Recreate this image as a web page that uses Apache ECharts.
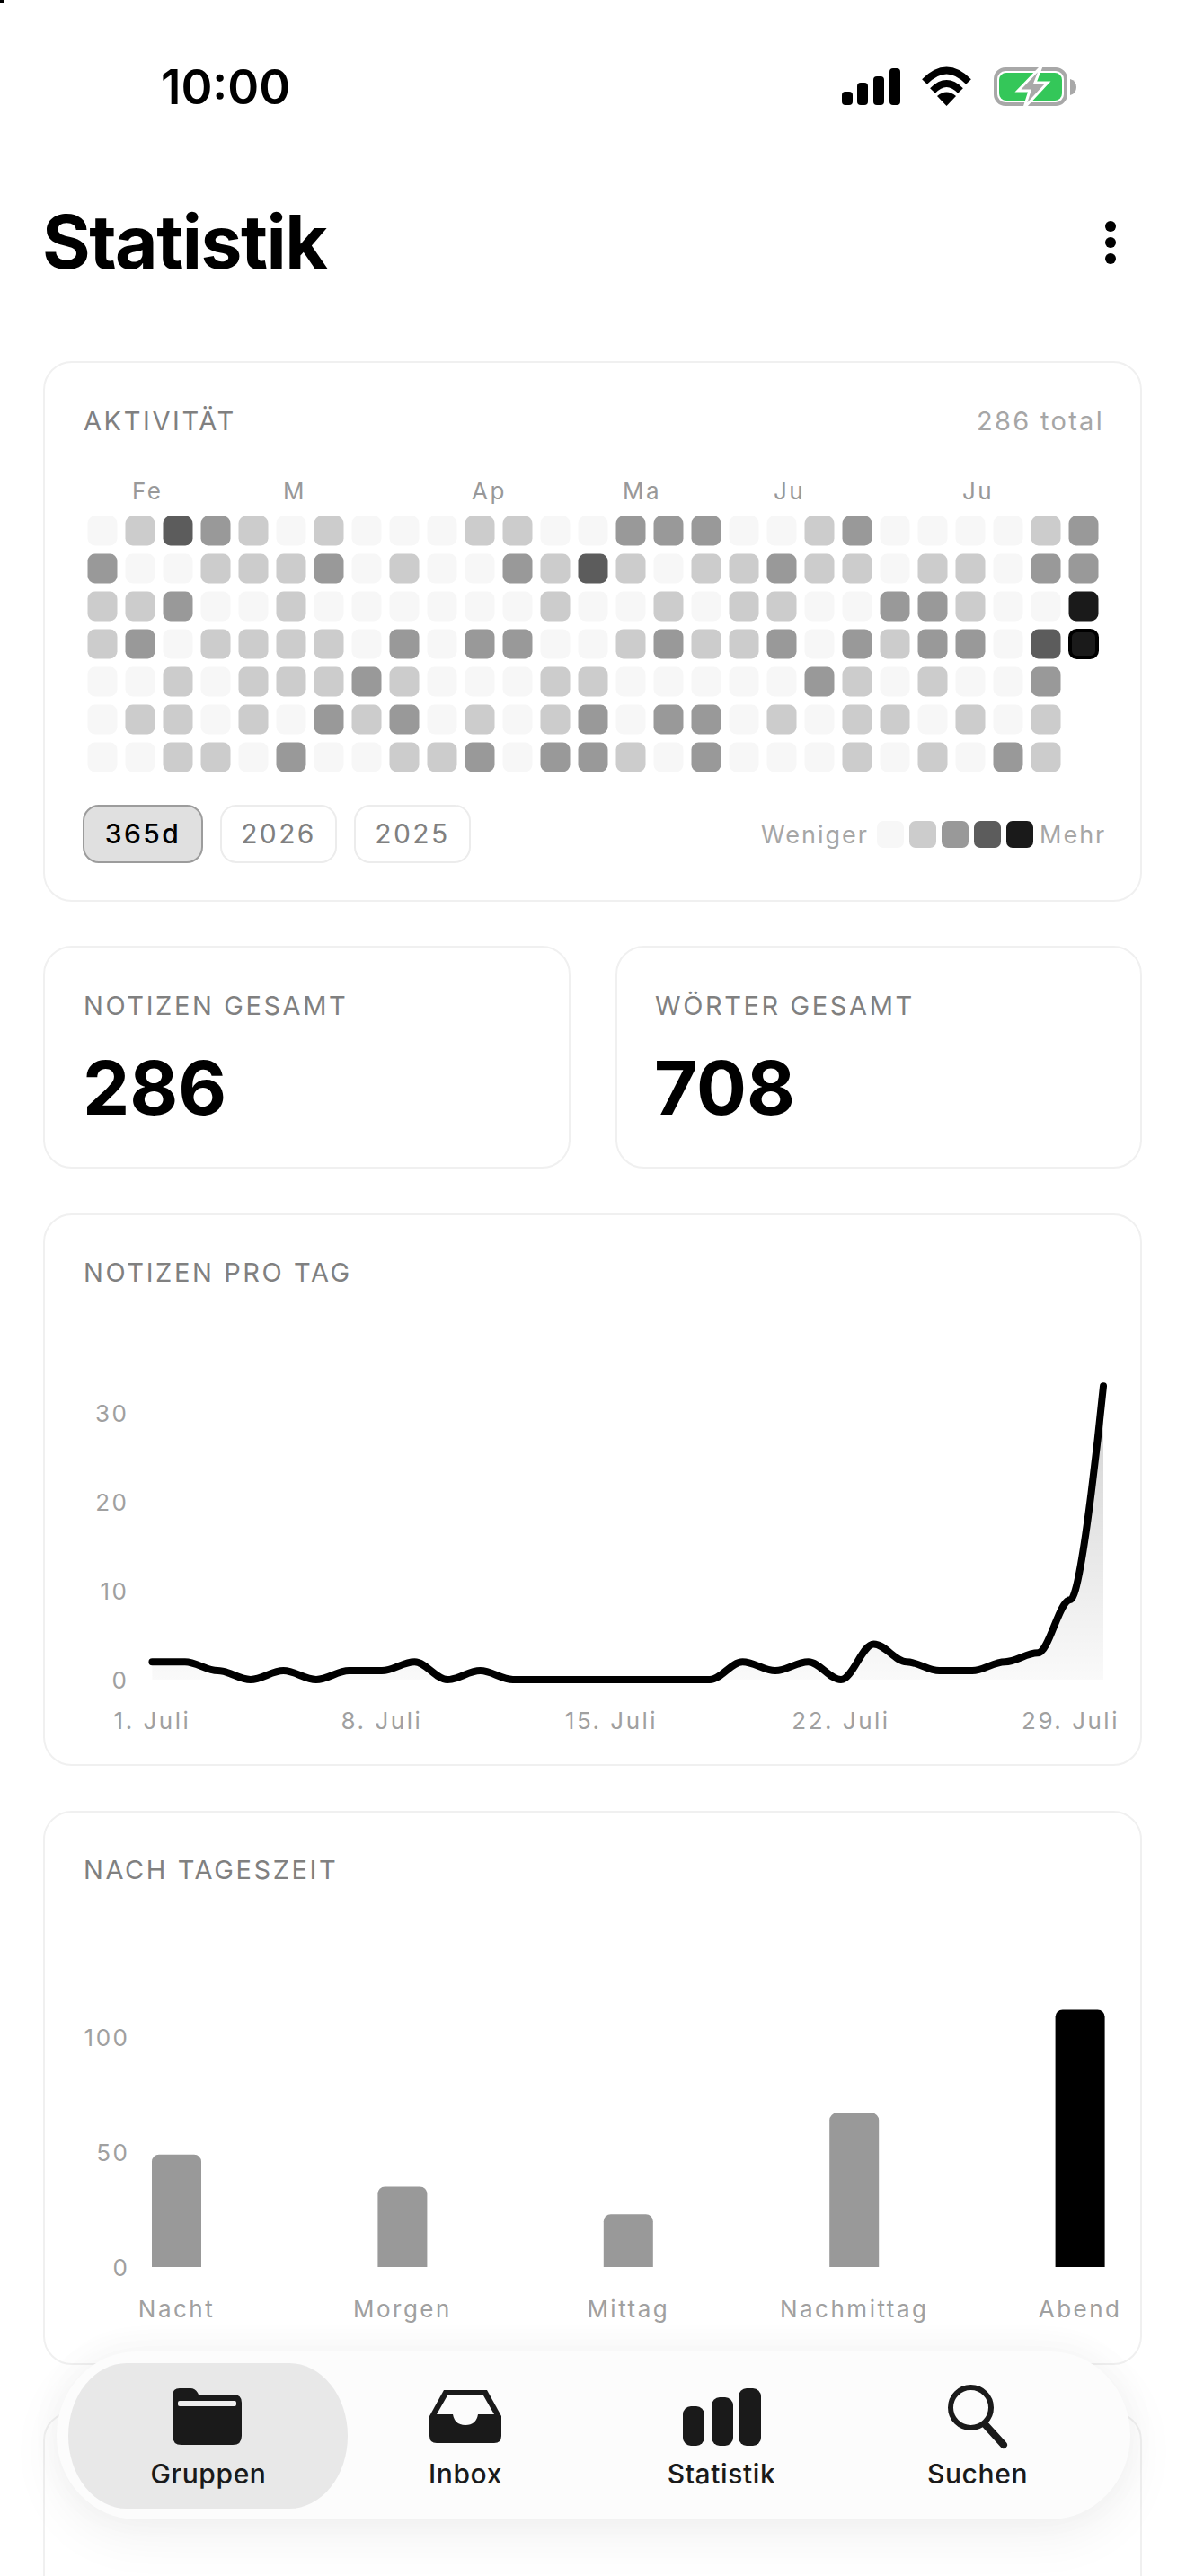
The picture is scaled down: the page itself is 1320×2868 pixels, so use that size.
<!DOCTYPE html>
<html>
<head>
<meta charset="utf-8">
<style>
  html, body { margin: 0; width: 1320px; height: 2868px; overflow: hidden; background: #fff; font-family: Inter, sans-serif; }
  .card { position: absolute; box-sizing: border-box; background: #fff; border: 2px solid #f0f0f0; border-radius: 32px; }
  .t { position: absolute; line-height: 1; white-space: nowrap; }
  .head { font-size: 29px; letter-spacing: 2.6px; color: #808080; }
  .big { font-size: 83px; font-weight: 700; color: #000; }
  .btn { position: absolute; box-sizing: border-box; top: 896px; height: 65px; border: 2px solid #ececec; border-radius: 18px; text-align: center; line-height: 61px; font-size: 30px; letter-spacing: 2.4px; color: #808080; }
  .btn.on { background: #e0e0e0; border-color: #9c9c9c; color: #000; font-weight: 500; }
  .leg { position: absolute; top: 914px; width: 30px; height: 30px; border-radius: 7px; }
  .small { font-size: 27px; letter-spacing: 2px; color: #a6a6a6; }
  #chart { position: absolute; left: 0; top: 0; width: 1320px; height: 2868px; z-index: 1; }
  #chart text { letter-spacing: 2.5px; }
  #nav { position: absolute; left: 63px; top: 2618px; width: 1195px; height: 187px; border-radius: 90px / 94px; background: #fcfcfc; box-shadow: 0 18px 60px rgba(0,0,0,.06), 0 -6px 40px rgba(0,0,0,.03); z-index: 2; }
  #pill { position: absolute; left: 76px; top: 2631px; width: 311px; height: 162px; border-radius: 65px / 81px; background: #e8e8e8; z-index: 2; }
  #icons { position: absolute; left: 0; top: 0; z-index: 3; }
  .tab { position: absolute; top: 2739px; width: 200px; text-align: center; font-size: 30px; font-weight: 500; letter-spacing: 0.6px; color: #1a1a1a; line-height: 1; z-index: 3; }
</style>
</head>
<body>
  <div style="position:absolute;left:0;top:0;width:4px;height:3px;background:#000"></div>

  <div class="t" style="left:179px;top:71px;font-size:53px;font-weight:600;color:#000">10:00</div>
  <div class="t" style="left:47px;top:229px;font-size:82px;font-weight:700;color:#000;letter-spacing:-1.5px">Statistik</div>

  <div class="card" style="left:48px;top:402px;width:1223px;height:602px"></div>
  <div class="t head" style="left:93px;top:454px">AKTIVITÄT</div>
  <div class="t" style="right:91px;top:454px;font-size:29px;letter-spacing:2.3px;color:#a6a6a6">286 total</div>
  <div class="btn on" style="left:92px;width:134px">365d</div>
  <div class="btn" style="left:245px;width:130px">2026</div>
  <div class="btn" style="left:394px;width:130px">2025</div>
  <div class="t small" style="left:847px;top:916px">Weniger</div>
  <div class="leg" style="left:976px;background:#f7f7f7"></div>
  <div class="leg" style="left:1012px;background:#cccccc"></div>
  <div class="leg" style="left:1048px;background:#999999"></div>
  <div class="leg" style="left:1084px;background:#5c5c5c"></div>
  <div class="leg" style="left:1120px;background:#1a1a1a"></div>
  <div class="t small" style="left:1157px;top:916px">Mehr</div>

  <div class="card" style="left:48px;top:1053px;width:587px;height:248px"></div>
  <div class="t head" style="left:93px;top:1105px">NOTIZEN GESAMT</div>
  <div class="t big" style="left:92px;top:1170px">286</div>
  <div class="card" style="left:685px;top:1053px;width:586px;height:248px"></div>
  <div class="t head" style="left:729px;top:1105px">WÖRTER GESAMT</div>
  <div class="t big" style="left:728px;top:1170px">708</div>

  <div class="card" style="left:48px;top:1351px;width:1223px;height:615px"></div>
  <div class="t head" style="left:93px;top:1402px">NOTIZEN PRO TAG</div>

  <div class="card" style="left:48px;top:2016px;width:1223px;height:617px"></div>
  <div class="t head" style="left:93px;top:2067px">NACH TAGESZEIT</div>

  <div class="card" style="left:48px;top:2685px;width:1223px;height:300px"></div>

  <div id="chart"></div>

  <div id="nav"></div>
  <div id="pill"></div>
  <div class="tab" style="left:132px">Gruppen</div>
  <div class="tab" style="left:418px">Inbox</div>
  <div class="tab" style="left:703px">Statistik</div>
  <div class="tab" style="left:988px">Suchen</div>

  <svg id="icons" width="1320" height="2868" viewBox="0 0 1320 2868">
    <!-- status bar -->
    <rect x="937" y="102" width="12" height="15" rx="4" fill="#000"/>
    <rect x="954" y="92" width="12" height="25" rx="4" fill="#000"/>
    <rect x="972" y="85" width="12" height="32" rx="4" fill="#000"/>
    <rect x="990" y="76" width="12" height="41" rx="4" fill="#000"/>
    <path d="M1029 91 Q1053.5 66 1078 91" fill="none" stroke="#000" stroke-width="8"/>
    <path d="M1038 101 Q1053.5 85 1069 101" fill="none" stroke="#000" stroke-width="8"/>
    <path d="M1043 107 Q1053.5 98 1064 107 L1053.5 118 Z" fill="#000"/>
    <rect x="1108" y="77" width="78" height="39" rx="11" fill="none" stroke="#a8a8a8" stroke-width="4"/>
    <rect x="1112" y="81" width="70" height="31" rx="8" fill="#34c759"/>
    <path d="M1191 88 Q1198 90 1198 97 Q1198 104 1191 106 Z" fill="#a8a8a8"/>
    <path d="M1159 74 L1133 101 H1146 L1140 120 L1166 92 H1152 Z" fill="#a9a9a9" stroke="#fff" stroke-width="3"/>
    <!-- menu -->
    <circle cx="1236" cy="252" r="6" fill="#000"/>
    <circle cx="1236" cy="270" r="6" fill="#000"/>
    <circle cx="1236" cy="288" r="6" fill="#000"/>
    <!-- folder -->
    <path d="M200 2659 H212 Q217 2659 220 2664 L221 2666 H260 Q269 2666 269 2675 V2712 Q269 2722 259 2722 H202 Q192 2722 192 2712 V2667 Q192 2659 200 2659 Z" fill="#1a1a1a"/>
    <rect x="198" y="2673" width="65" height="6" rx="2" fill="#eee"/>
    <!-- inbox -->
    <path d="M494 2661 H542 L558 2690 V2712 Q558 2720 550 2720 H486 Q478 2720 478 2712 V2690 Z" fill="#1a1a1a"/>
    <path d="M498 2667 H538 L550 2688 H532 Q530 2700 518 2700 Q506 2700 504 2688 H486 Z" fill="#fcfcfc"/>
    <!-- stats -->
    <rect x="760" y="2679" width="24" height="44" rx="9" fill="#1a1a1a"/>
    <rect x="792" y="2669" width="24" height="54" rx="9" fill="#1a1a1a"/>
    <rect x="822" y="2659" width="25" height="64" rx="9" fill="#1a1a1a"/>
    <!-- search -->
    <circle cx="1080.5" cy="2680.5" r="22.5" fill="none" stroke="#1a1a1a" stroke-width="6"/>
    <line x1="1097" y1="2700" x2="1117" y2="2722" stroke="#1a1a1a" stroke-width="8" stroke-linecap="round"/>
  </svg>

  <script src="https://cdn.jsdelivr.net/npm/echarts@6/dist/echarts.min.js"></script>
  <script type="text/javascript">
    // activity levels per weekday row, one entry per column, null = no cell
    var heatRow0 = [0,1,3,2,1,0,1,0,0,0,1,1,0,0,2,2,2,0,0,1,2,0,0,0,0,1,2];
    var heatRow1 = [2,0,0,1,1,1,2,0,1,0,0,2,1,3,1,0,1,1,2,1,1,0,1,1,0,2,2];
    var heatRow2 = [1,1,2,0,0,1,0,0,0,0,0,0,1,0,0,1,0,1,1,0,0,2,2,1,0,0,4];
    var heatRow3 = [1,2,0,1,1,1,1,0,2,0,2,2,0,0,1,2,1,1,2,0,2,1,2,2,0,3,4];
    var heatRow4 = [0,0,1,0,1,1,1,2,1,0,0,0,1,1,0,0,0,0,0,2,1,0,1,0,0,2,null];
    var heatRow5 = [0,1,1,0,1,0,2,1,2,0,1,0,1,2,0,2,2,0,1,0,1,1,0,1,0,1,null];
    var heatRow6 = [0,0,1,1,0,2,0,0,1,1,2,0,2,2,1,0,2,0,0,0,1,0,1,0,2,1,null];
    var heatColors = ['#f7f7f7', '#cccccc', '#999999', '#5c5c5c', '#1a1a1a'];
    var monthLabels = ['', 'Fe', '', '', '', 'M', '', '', '', '', 'Ap', '', '', '', 'Ma', '', '', '', 'Ju', '', '', '', '', 'Ju', '', '', ''];

    var dayLabels = ['1. Juli','2. Juli','3. Juli','4. Juli','5. Juli','6. Juli','7. Juli','8. Juli','9. Juli','10. Juli',
      '11. Juli','12. Juli','13. Juli','14. Juli','15. Juli','16. Juli','17. Juli','18. Juli','19. Juli','20. Juli',
      '21. Juli','22. Juli','23. Juli','24. Juli','25. Juli','26. Juli','27. Juli','28. Juli','29. Juli','30. Juli'];
    var notesPerDay = [2,2,1,0,1,0,1,1,2,0,1,0,0,0,0,0,0,0,2,1,2,0,4,2,1,1,2,3,9,33];

    var dayParts = ['Nacht', 'Morgen', 'Mittag', 'Nachmittag', 'Abend'];
    var notesPerPart = [49, 35, 23, 67, 112];

    var heatRows = [heatRow0, heatRow1, heatRow2, heatRow3, heatRow4, heatRow5, heatRow6];
    var heatData = [];
    heatRows.forEach(function (row, r) {
      row.forEach(function (level, c) {
        if (level === null) return;
        var item = { value: [c, r], itemStyle: { color: heatColors[level], opacity: 1 } };
        // today is outlined
        if (r === 3 && c === 26) {
          item.symbolSize = 30;
          item.itemStyle.borderColor = '#000';
          item.itemStyle.borderWidth = 4;
        }
        heatData.push(item);
      });
    });

    var labelFont = { fontFamily: 'Inter', fontSize: 26, color: '#a0a0a0' };

    var chart = echarts.init(document.getElementById('chart'), null, { renderer: 'svg' });
    chart.setOption({
      animation: false,
      grid: [
        { left: 93, top: 570, width: 1134, height: 294 },
        { left: 169.4, top: 1523.5, width: 1058.6, height: 346.5 },
        { left: 196.5, top: 2217, width: 1005.6, height: 307 }
      ],
      xAxis: [
        {
          gridIndex: 0, type: 'category', position: 'top', data: monthLabels,
          axisLine: { show: false }, axisTick: { show: false },
          axisLabel: Object.assign({}, labelFont, { interval: 0, align: 'left', padding: [0, 0, 0, -9], margin: 11, color: '#999' })
        },
        {
          gridIndex: 1, type: 'category', boundaryGap: false, data: dayLabels,
          axisLine: { show: false }, axisTick: { show: false },
          axisLabel: Object.assign({}, labelFont, { interval: 6, margin: 32 })
        },
        {
          gridIndex: 2, type: 'category', boundaryGap: false, data: dayParts,
          axisLine: { show: false }, axisTick: { show: false },
          axisLabel: Object.assign({}, labelFont, { interval: 0, margin: 33 })
        }
      ],
      yAxis: [
        { gridIndex: 0, type: 'category', inverse: true, show: false, data: [0, 1, 2, 3, 4, 5, 6] },
        {
          gridIndex: 1, type: 'value', min: 0, max: 35, interval: 10,
          axisLine: { show: false }, axisTick: { show: false }, splitLine: { show: false },
          axisLabel: Object.assign({}, labelFont, { margin: 26, padding: [8, 0, 0, 0], showMaxLabel: false })
        },
        {
          gridIndex: 2, type: 'value', min: 0, max: 120, interval: 50,
          axisLine: { show: false }, axisTick: { show: false }, splitLine: { show: false },
          axisLabel: Object.assign({}, labelFont, { margin: 52, padding: [8, 0, 0, 0], showMaxLabel: false })
        }
      ],
      series: [
        {
          type: 'scatter', xAxisIndex: 0, yAxisIndex: 0, symbol: 'roundRect', symbolSize: 33,
          silent: true, data: heatData
        },
        {
          type: 'line', xAxisIndex: 1, yAxisIndex: 1, data: notesPerDay,
          smooth: 0.35, smoothMonotone: 'x', showSymbol: false, silent: true, clip: false,
          lineStyle: { color: '#000', width: 8, cap: 'round', join: 'round' },
          areaStyle: {
            color: {
              type: 'linear', x: 0, y: 0, x2: 0, y2: 1,
              colorStops: [{ offset: 0, color: 'rgba(0,0,0,0.26)' }, { offset: 1, color: 'rgba(0,0,0,0.03)' }]
            }
          }
        },
        {
          type: 'bar', xAxisIndex: 2, yAxisIndex: 2, barWidth: 55, clip: false, silent: true,
          data: notesPerPart.map(function (v, i) {
            return { value: v, itemStyle: { color: i === notesPerPart.length - 1 ? '#000' : '#999', borderRadius: [8, 8, 0, 0] } };
          })
        }
      ]
    });
  </script>
</body>
</html>
